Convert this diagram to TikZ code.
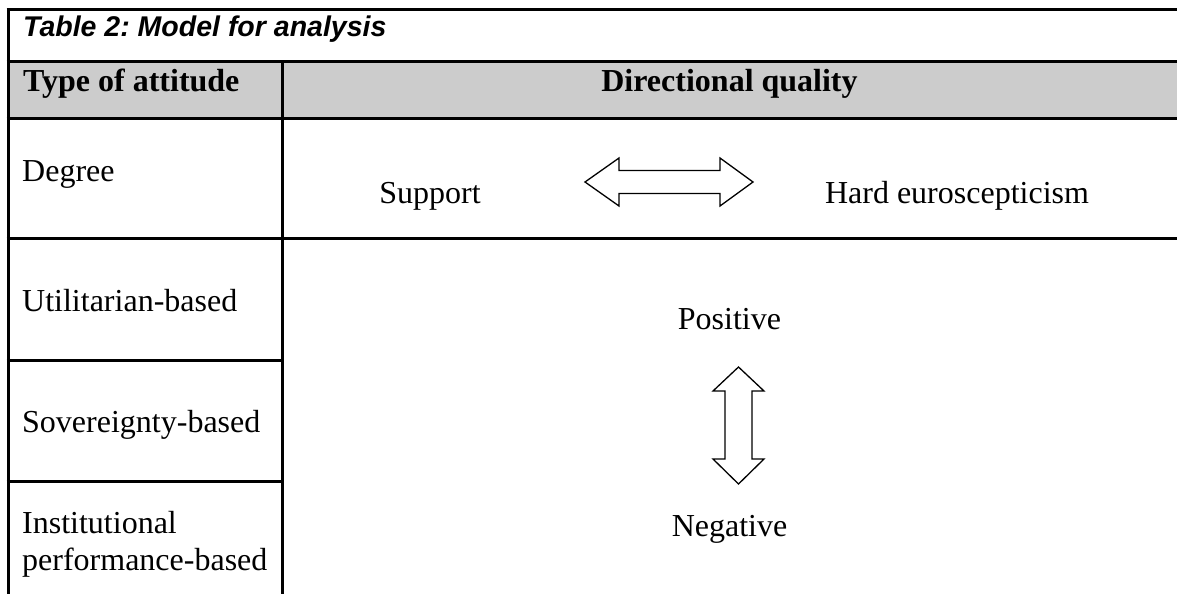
\documentclass[tikz,border=0pt]{standalone}
\usepackage{fontspec}
\setmainfont{Liberation Serif}
\newfontfamily\titlefont{Liberation Sans}
\frenchspacing
\begin{document}
\begin{tikzpicture}[x=1pt,y=-1pt,
  rule/.style={line width=3pt},
  lbl/.style={inner sep=0pt,anchor=base west,font=\fontsize{32}{37}\selectfont},
  clbl/.style={inner sep=0pt,anchor=base,font=\fontsize{32}{37}\selectfont},
  headlbl/.style={font=\bfseries\fontsize{32}{37}\selectfont},
  blockarrow/.style={draw,line width=1.3pt,line join=miter,fill=white}]
\useasboundingbox (0,0) rectangle (1177,594);
% header shading
\fill[black!20] (8,62) rectangle (1177,118);
% rules
\draw[rule] (6.5,10) -- (1177,10);
\draw[rule] (6.5,62) -- (1177,62);
\draw[rule] (6.5,118) -- (1177,118);
\draw[rule] (6.5,238) -- (1177,238);
\draw[rule] (6.5,360) -- (283.5,360);
\draw[rule] (6.5,481) -- (283.5,481);
\draw[rule] (8,8.5) -- (8,594);
\draw[rule] (282,62) -- (282,594);
% texts
\node[lbl,font=\titlefont\bfseries\itshape\fontsize{28.5}{34}\selectfont] (title) at (23,37) {Table 2: Model for analysis};
\node[lbl,headlbl] (type) at (23,92) {Type of attitude};
\node[clbl,headlbl] (dir) at (729.5,92) {Directional quality};
\node[lbl] (deg) at (22,181) {Degree};
\node[clbl] (sup) at (430,203) {Support};
\node[clbl] (hard) at (957,203) {Hard euroscepticism};
\node[lbl] (util) at (22,311) {Utilitarian-based};
\node[lbl] (sov) at (22,432) {Sovereignty-based};
\node[lbl] (inst1) at (22,533) {Institutional};
\node[lbl] (inst2) at (22,570) {performance-based};
\node[clbl] (pos) at (729.5,329) {Positive};
\node[clbl] (neg) at (729.5,536) {Negative};
% block arrows
\draw[blockarrow] (585,182) -- (619,158) -- (619,170.5) -- (720,170.5) -- (720,158) -- (753,182) -- (720,206) -- (720,193.5) -- (619,193.5) -- (619,206) -- cycle;
\draw[blockarrow] (738.5,367) -- (764,391) -- (752,391) -- (752,459) -- (764,459) -- (738.5,484) -- (713,459) -- (725,459) -- (725,391) -- (713,391) -- cycle;
\end{tikzpicture}
\end{document}
